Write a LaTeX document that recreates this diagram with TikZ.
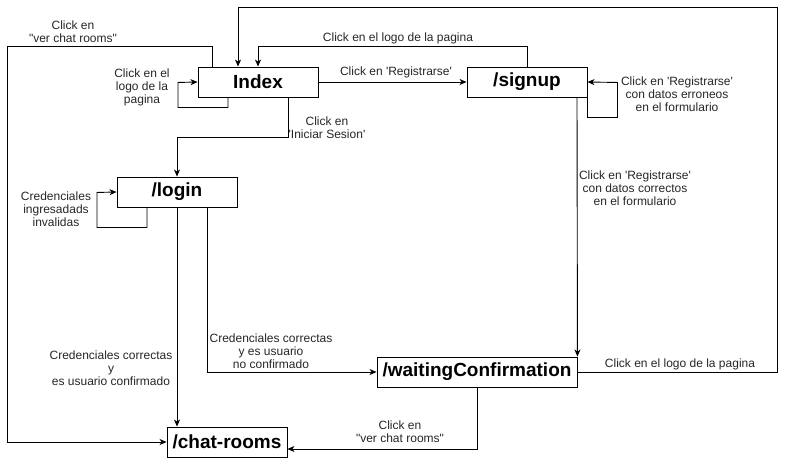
\documentclass[tikz,border=0pt]{standalone}
\usepackage{fontspec}
\setmainfont{Liberation Sans}
\usepackage{tikz}
\usetikzlibrary{arrows.meta}
\newcommand{\squote}{\textquotesingle}
\newcommand{\dquote}{\textquotedbl}

\begin{document}
\begin{tikzpicture}[x=1pt, y=-1pt, >={Stealth[length=7pt, width=6pt, inset=2pt]}, line width=0.9pt,
    page/.style={draw, minimum width=120pt, minimum height=30pt, inner sep=0pt,
        font=\fontsize{19}{22}\selectfont\bfseries},
    lbl/.style={align=center, inner sep=0pt, text=black!85,
        font=\fontsize{12}{13}\selectfont}]
    \useasboundingbox (0,0) rectangle (786,459);
    % Pages
    \node[page] (index) at (258,82) {Index};
    \node[page] (signup) at (527,82) {/signup};
    \node[page] (login) at (177,192) {/login};
    \node[page, minimum width=200pt] (wait) at (477,372) {/waitingConfirmation};
    \node[page] (chat) at (227,442) {/chat-rooms};
    % Corners of the long loops
    \coordinate (topright) at (777,7);
    \coordinate (farleft) at (7,442);
    % From Index
    \draw [->] (index.east) -- (signup.west);
    \draw [->] ([xshift=-30pt]index.south) -- ++(0,10) -| ++(-50,-25) -- (index.west);
    \draw [->] ([xshift=30pt]index.south) -- ++(0,40) -| (login.north);
    \draw [->] ([xshift=-46pt]index.north) -- ++(0,-20) -| (farleft) -- (chat.west);
    % From /signup
    \draw [->] (signup.north) -- ++(0,-20) -| (index.north);
    \draw [->] (signup.south east) -- ++(0,20) -| ++(30,-35) -- (signup.east);
    \draw [->] ([xshift=50pt]signup.south) -- (wait.north east);
    % From /login
    \draw [->] ([xshift=-30pt]login.south) -- ++(0,20) -| ++(-50,-35) -- (login.west);
    \draw [->] (login.south) -- (login.south |- chat.north);
    \draw [->] ([xshift=30pt]login.south) |- (wait.west);
    % From /waitingConfirmation
    \draw [->] (wait.east) -| (topright) -| ([xshift=-20pt]index.north);
    \draw [->] (wait.south) |- ([yshift=-7pt]chat.east);
    % Labels
    \node[lbl] (lchat) at (73,32) {Click en\\\dquote ver chat rooms\dquote};
    \node[lbl] (llogo) at (398,38) {Click en el logo de la pagina};
    \node[lbl] (lreg) at (396,72) {Click en \squote Registrarse\squote};
    \node[lbl] (lself) at (142,87) {Click en el\\logo de la\\pagina};
    \node[lbl] (lses) at (327,128) {Click en\\\squote Iniciar Sesion\squote};
    \node[lbl] (lerr) at (677,94) {Click en \squote Registrarse\squote\\con datos erroneos\\en el formulario};
    \node[lbl] (linv) at (56,209) {Credenciales\\ingresadads\\invalidas};
    \node[lbl] (lok) at (635,188) {Click en \squote Registrarse\squote\\con datos correctos\\en el formulario};
    \node[lbl] (lconf) at (111,368) {Credenciales correctas\\y\\es usuario confirmado};
    \node[lbl] (lnoconf) at (271,351) {Credenciales correctas\\y es usuario\\no confirmado};
    \node[lbl] (llogo2) at (680,364) {Click en el logo de la pagina};
    \node[lbl] (lchat2) at (400,432) {Click en\\\dquote ver chat rooms\dquote};
\end{tikzpicture}
\end{document}
